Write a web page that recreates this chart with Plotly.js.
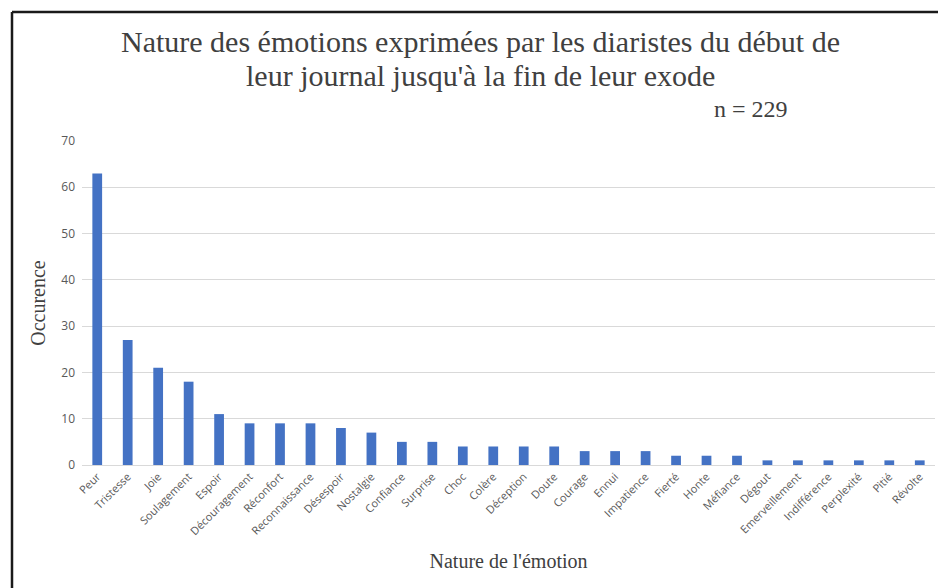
<!DOCTYPE html>
<html>
<head>
<meta charset="utf-8">
<script src="https://cdn.plot.ly/plotly-3.0.1.min.js"></script>
<style>html,body{margin:0;padding:0;background:#fff;}#chart{width:938px;height:588px;}</style>
</head>
<body>
<div id="chart"></div>
<script>
const categories = ["Peur","Tristesse","Joie","Soulagement","Espoir","Découragement","Réconfort","Reconnaissance","Désespoir","Nostalgie","Confiance","Surprise","Choc","Colère","Déception","Doute","Courage","Ennui","Impatience","Fierté","Honte","Méfiance","Dégout","Emerveillement","Indifférence","Perplexité","Pitié","Révolte"];
const occurrences = [63,27,21,18,11,9,9,9,8,7,5,5,4,4,4,4,3,3,3,2,2,2,1,1,1,1,1,1];
const yTicks = [0,10,20,30,40,50,60,70];
const titleLines = ["Nature des émotions exprimées par les diaristes du début de", "leur journal jusqu'à la fin de leur exode"];
const sampleNote = "n = 229";

const serif = "Liberation Serif, DejaVu Serif, serif";
const sans = "Open Sans, Liberation Sans, sans-serif";
const textGray = "#404040";

const trace = {
  type: "bar",
  x: categories,
  y: occurrences,
  marker: {color: "#4472C4"},
  hoverinfo: "x+y"
};

// plot area: top 141px, height 324px -> paper y = (465 - py)/324
const py = p => (465 - p) / 324;
const px = p => (p - 82) / 853;

const layout = {
  width: 938, height: 588,
  margin: {l: 82, r: 3, t: 141, b: 123},
  paper_bgcolor: "#ffffff",
  plot_bgcolor: "#ffffff",
  bargap: 0.68,
  showlegend: false,
  xaxis: {
    type: "category",
    tickangle: -45,
    tickfont: {family: sans, size: 11, color: "#595959"},
    showgrid: false,
    showline: true, linecolor: "#d9d9d9", linewidth: 1,
    ticks: "",
    title: {text: "Nature de l'émotion", font: {family: serif, size: 20, color: textGray}, standoff: 16}
  },
  yaxis: {
    range: [0, 70],
    tickvals: yTicks,
    tickfont: {family: sans, size: 12, color: "#595959"},
    showgrid: true, gridcolor: "#d9d9d9", gridwidth: 1,
    zeroline: false,
    ticks: "",
    ticklabelstandoff: 6,
    title: {text: "Occurence", font: {family: serif, size: 20, color: textGray}, standoff: 10}
  },
  annotations: [
    {text: titleLines[0], xref: "paper", yref: "paper", x: px(480), y: py(42), xanchor: "center", yanchor: "middle", showarrow: false, font: {family: serif, size: 30, color: textGray}},
    {text: titleLines[1], xref: "paper", yref: "paper", x: px(480), y: py(75), xanchor: "center", yanchor: "middle", showarrow: false, font: {family: serif, size: 30, color: textGray}},
    {text: sampleNote, xref: "paper", yref: "paper", x: px(751), y: py(109), xanchor: "center", yanchor: "middle", showarrow: false, font: {family: serif, size: 24, color: textGray}}
  ],
  shapes: [
    {type: "line", xref: "paper", yref: "paper", x0: px(12), x1: 1.02, y0: py(12), y1: py(12), line: {color: "#1a1a1a", width: 2.5}},
    {type: "line", xref: "paper", yref: "paper", x0: px(12), x1: px(12), y0: py(12), y1: -0.45, line: {color: "#1a1a1a", width: 2.5}}
  ]
};

Plotly.newPlot("chart", [trace], layout, {displayModeBar: false, staticPlot: true});
</script>
</body>
</html>
